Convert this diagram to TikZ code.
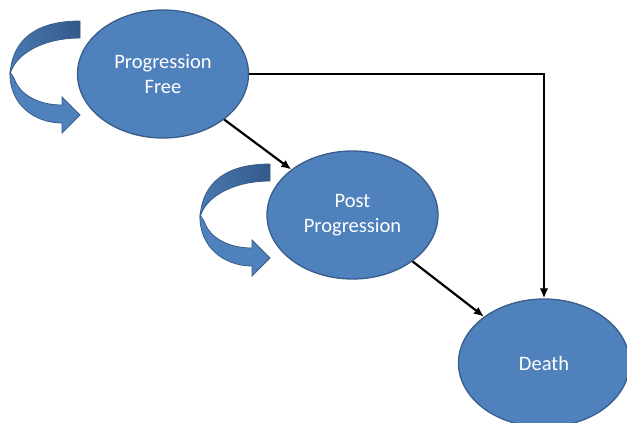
\documentclass[tikz,border=0pt]{standalone}
\usepackage{fontspec}
\setmainfont{Carlito}
\usetikzlibrary{shapes.geometric,arrows.meta}
\definecolor{stfill}{HTML}{4F81BD}
\definecolor{stline}{HTML}{385D8A}
\definecolor{backdark}{HTML}{33598A}
\definecolor{backlight}{HTML}{4A79B2}
\tikzset{
  statenode/.style={ellipse, fill=stfill, draw=stline, line width=1.3pt,
    minimum width=171pt, minimum height=128pt, inner sep=0pt,
    text=white, align=center, font=\fontsize{20.5}{24.5}\selectfont},
  conn/.style={line width=2.2pt, -{Latex[length=10pt,width=8.5pt]}},
  loopback/.style={left color=backlight, right color=backdark, draw=stline, line width=0.8pt},
  loopfront/.style={fill=stfill, draw=stline, line width=0.8pt},
}
\newcommand{\selfloop}{%
  \path[loopback] (80,21) .. controls (38,21) and (12,38) .. (10,75)
     .. controls (14,55) and (42,38) .. (80,38) -- cycle;
  \path[loopfront] (10,72) .. controls (9,105) and (35,123) .. (62,123)
     -- (62,133) -- (80,115) -- (62,97) -- (62,105)
     .. controls (40,105) and (20,96) .. (14,78) -- cycle;
}
\begin{document}
\begin{tikzpicture}[x=1pt,y=-1pt]
\useasboundingbox (0,0) rectangle (627,423);
\clip (0,0) rectangle (627,423);
\begin{scope}
  \selfloop
\end{scope}
\begin{scope}[shift={(190,143)}]
  \selfloop
\end{scope}
\node[statenode] (pf) at (163,74) {Progression\\Free};
\node[statenode] (pp) at (352.5,215) {Post\\Progression};
\node[statenode] (d) at (544,363) {Death};
\draw[conn] (pf) -- (pp);
\draw[conn] (pp) -- (d);
\draw[conn] (pf.east) -| (d.north);
\end{tikzpicture}
\end{document}
